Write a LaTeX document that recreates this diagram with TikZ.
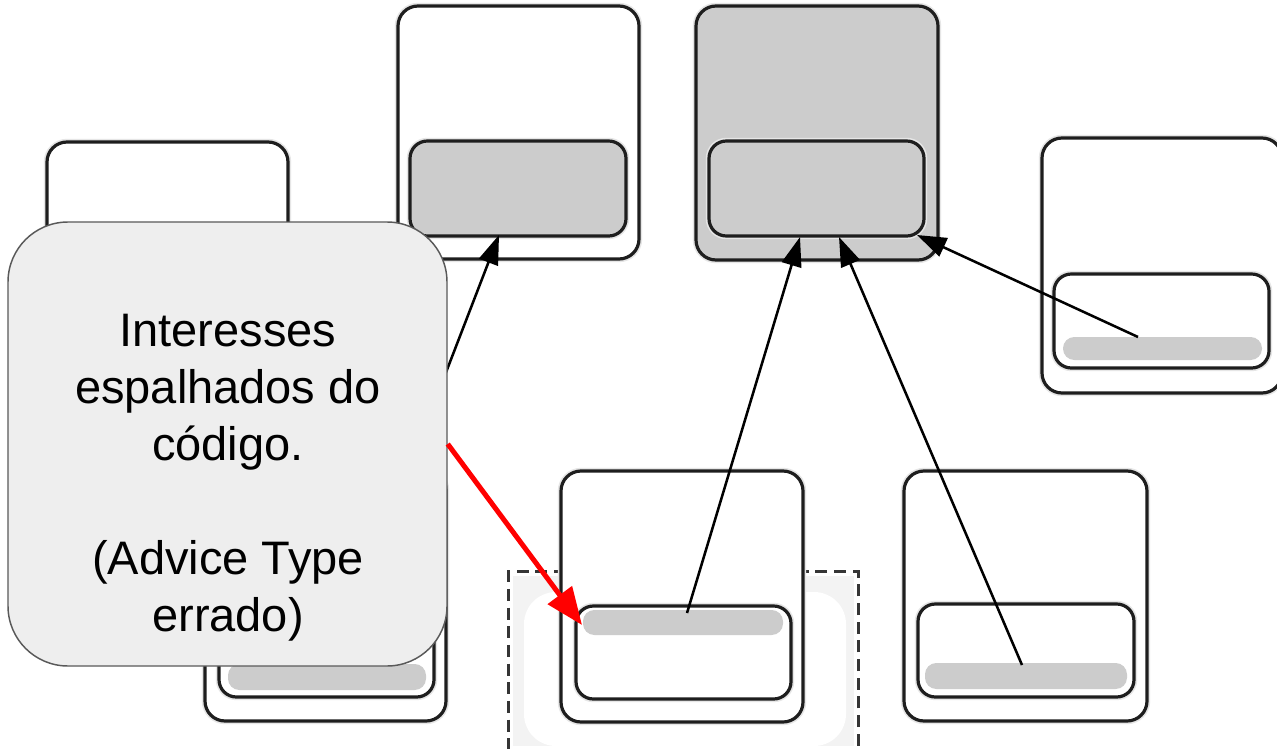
\documentclass[tikz,border=0pt]{standalone}
\usepackage{fontspec}
\setmainfont{Liberation Sans}
\usetikzlibrary{arrows.meta,fit}
\definecolor{boxline}{HTML}{1E1E1E}
\definecolor{panel}{HTML}{CCCCCC}
\definecolor{notefill}{HTML}{EEEEEE}
\definecolor{noteline}{HTML}{595959}
\definecolor{alert}{HTML}{FF0000}
\definecolor{haze}{HTML}{F3F3F3}
\definecolor{halo}{HTML}{E6E6E6}
\begin{document}
\begin{tikzpicture}[x=0.75pt,y=-0.75pt,
  soft/.style={preaction={draw=halo, line width=4.8pt}},
  frame/.style={soft, draw=boxline, line width=2.4pt, rounded corners=15pt, inner sep=0pt, fill=white},
  grayframe/.style={frame, fill=panel},
  slot/.style={soft, draw=boxline, line width=2.4pt, rounded corners=13pt, inner sep=0pt, fill=white},
  grayslot/.style={slot, fill=panel},
  bar/.style={fill=panel, rounded corners=8.5pt, inner sep=0pt},
  link/.style={draw=black, line width=1.9pt, -{Triangle[length=22pt,width=15pt]}},
  alertlink/.style={draw=alert, line width=3.75pt, -{Triangle[length=28pt,width=22pt]}},
  note/.style={draw=noteline, line width=1.1pt, fill=notefill, rounded corners=45pt, inner sep=0pt},
  selection/.style={draw=boxline!90, line width=2.4pt, dash pattern=on 9pt off 5pt}
]
\useasboundingbox[fill=white] (0,0) rectangle (1277,749);

% upper row of modules
\node[frame, fit={(47,142) (288,392)}] (C) {};
\node[frame, fit={(398,6) (639,259)}] (A) {};
\node[grayslot, fit={(410,141) (626,236)}] (Ain) {};
\node[grayframe, fit={(696,6) (938,260)}] (B) {};
\node[grayslot, fit={(709,141) (924,236)}] (Bin) {};
\node[frame, fit={(1042,138) (1282,393)}] (G) {};
\node[slot, fit={(1054,274) (1269,368)}] (Gin) {};
\node[bar, fit={(1063,337) (1262,360)}] (Gbar) {};

% highlighted join point
\fill[haze] (513,576) rectangle (854,746);
\fill[white, rounded corners=24pt] (524,592) rectangle (846,746);
\node[selection, fit={(513,576) (854,746)}] (S) {};

% lower row of modules
\node[frame, fit={(205,470) (446,721)}] (D) {};
\node[slot, fit={(219,604) (434,697)}] (Din) {};
\node[bar, fit={(228,664) (426,690)}] (Dbar) {};
\node[frame, fit={(561,471) (803,722)}] (E) {};
\node[slot, fit={(576,606) (791,699)}] (Ein) {};
\node[bar, fit={(583,610) (783,635)}] (Ebar) {};
\node[frame, fit={(904,471) (1147,721)}] (F) {};
\node[slot, fit={(918,604) (1134,697)}] (Fin) {};
\node[bar, fit={(925,663) (1127,689)}] (Fbar) {};

% connector ends
\coordinate (dS) at (335,660);
\coordinate (aT) at (499,235);
\coordinate (eS) at (687,613);
\coordinate (bT1) at (800,237);
\coordinate (fS) at (1022,665);
\coordinate (bT2) at (839,237);
\coordinate (gS) at (1138,337);
\coordinate (bT3) at (917,235);

\draw[link] (dS) -- (aT);
\draw[link] (eS) -- (bT1);
\draw[link] (fS) -- (bT2);
\draw[link] (gS) -- (bT3);

% comment balloon
\node[note, fit={(8,222) (447,666)}] (N) {};
\node[align=center, inner sep=0pt, font=\fontsize{35.25}{42.75}\selectfont]
  (Ntext) at (228,478) {Interesses\\espalhados do\\código.\\[42.75pt](Advice Type\\errado)};

\coordinate (rT) at (582,625);
\draw[alertlink] (N.east) -- (rT);
\end{tikzpicture}
\end{document}
